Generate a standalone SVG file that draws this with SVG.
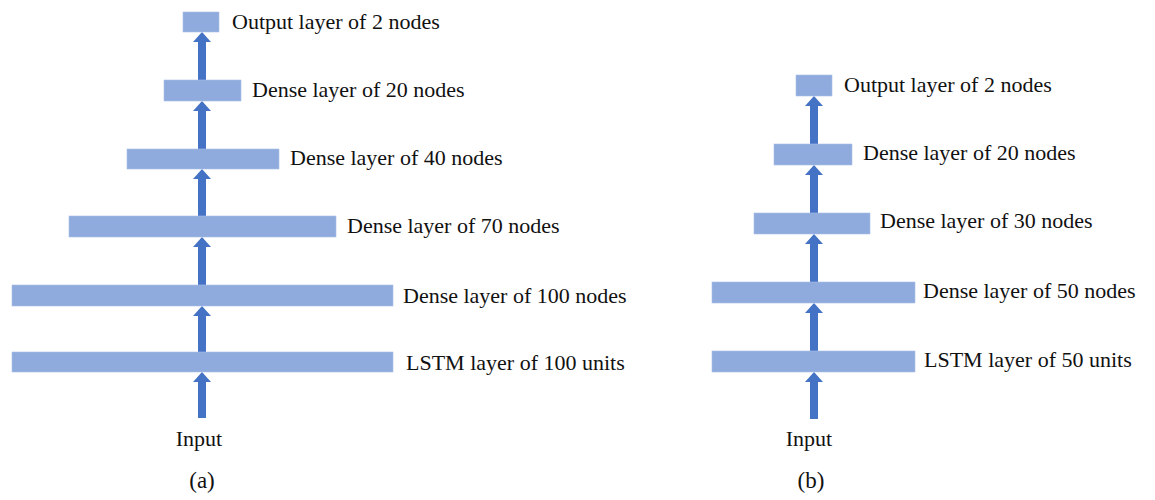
<svg xmlns="http://www.w3.org/2000/svg" width="1155" height="500" viewBox="0 0 1155 500">
<defs>
<style>
.box{fill:#8FAADC;stroke:#A9C0E6;stroke-width:0.6}
.lbl{font-family:"Liberation Serif","Times New Roman","DejaVu Serif",serif;font-size:22px;fill:#111}
.mid{text-anchor:middle}
.cap{font-size:23px}
.arr{stroke:#4472C4;stroke-width:8;fill:none;marker-end:url(#ah)}
</style>
<marker id="ah" viewBox="0 0 10 18" markerWidth="10" markerHeight="18" refX="0" refY="9" orient="auto" markerUnits="userSpaceOnUse">
<path d="M0,0 L10,9 L0,18 Z" fill="#4472C4"/>
</marker>
</defs>
<rect width="1155" height="500" fill="#fff"/>
<g id="connectors">
<line class="arr" x1="202" y1="418" x2="202" y2="382"/>
<line class="arr" x1="202" y1="352" x2="202" y2="316"/>
<line class="arr" x1="202" y1="285" x2="202" y2="247"/>
<line class="arr" x1="202" y1="216" x2="202" y2="179"/>
<line class="arr" x1="202" y1="149" x2="202" y2="111"/>
<line class="arr" x1="202" y1="80" x2="202" y2="42"/>
<line class="arr" x1="814" y1="419" x2="814" y2="382"/>
<line class="arr" x1="814" y1="351" x2="814" y2="313"/>
<line class="arr" x1="814" y1="282" x2="814" y2="244"/>
<line class="arr" x1="814" y1="213" x2="814" y2="175"/>
<line class="arr" x1="814" y1="144" x2="814" y2="106"/>
</g>
<g id="a-output"><rect class="box" x="183" y="12" width="36" height="20"/><text class="lbl" x="232" y="29">Output layer of 2 nodes</text></g>
<g id="a-dense20"><rect class="box" x="164" y="80" width="77" height="21"/><text class="lbl" x="252" y="97">Dense layer of 20 nodes</text></g>
<g id="a-dense40"><rect class="box" x="127" y="149" width="152" height="20"/><text class="lbl" x="290" y="165">Dense layer of 40 nodes</text></g>
<g id="a-dense70"><rect class="box" x="69" y="216" width="267" height="21"/><text class="lbl" x="347" y="233">Dense layer of 70 nodes</text></g>
<g id="a-dense100"><rect class="box" x="12" y="285" width="381" height="21"/><text class="lbl" x="403" y="303">Dense layer of 100 nodes</text></g>
<g id="a-lstm"><rect class="box" x="12" y="352" width="381" height="20"/><text class="lbl" x="406" y="370">LSTM layer of 100 units</text></g>
<g id="a-input"><text class="lbl mid" x="199" y="446">Input</text></g>
<g id="a-caption"><text class="lbl mid cap" x="202" y="488">(a)</text></g>
<g id="b-output"><rect class="box" x="796" y="75" width="36" height="21"/><text class="lbl" x="844" y="92">Output layer of 2 nodes</text></g>
<g id="b-dense20"><rect class="box" x="774" y="144" width="78" height="21"/><text class="lbl" x="863" y="160">Dense layer of 20 nodes</text></g>
<g id="b-dense30"><rect class="box" x="754" y="213" width="116" height="21"/><text class="lbl" x="880" y="228">Dense layer of 30 nodes</text></g>
<g id="b-dense50"><rect class="box" x="712" y="282" width="203" height="21"/><text class="lbl" x="923" y="298">Dense layer of 50 nodes</text></g>
<g id="b-lstm"><rect class="box" x="712" y="351" width="203" height="21"/><text class="lbl" x="924" y="367">LSTM layer of 50 units</text></g>
<g id="b-input"><text class="lbl mid" x="809" y="446">Input</text></g>
<g id="b-caption"><text class="lbl mid cap" x="811" y="488">(b)</text></g>
</svg>
